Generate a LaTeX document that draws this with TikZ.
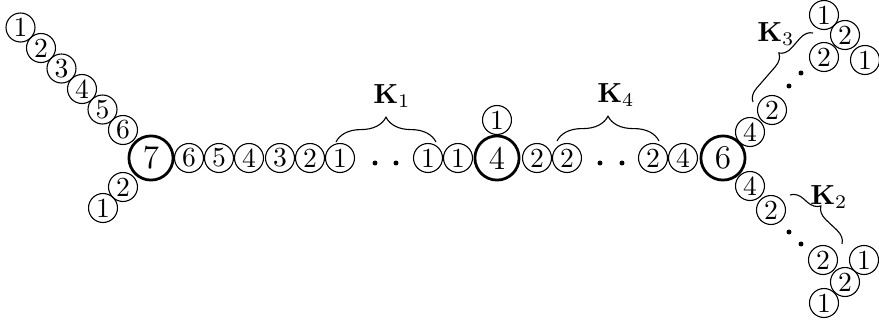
\documentclass[tikz,border=0pt]{standalone}
\usetikzlibrary{decorations.pathreplacing}
\begin{document}
\begin{tikzpicture}[x=0.3623pt,y=0.3623pt,
  smallnode/.style={circle,draw,line width=0.4pt,inner sep=0pt,minimum size=10.5pt,font=\fontsize{10}{12}\selectfont},
  bignode/.style={circle,draw,line width=1pt,inner sep=0pt,minimum size=16pt,font=\fontsize{12}{14}\selectfont},
  dotnode/.style={circle,fill,inner sep=0pt,minimum size=1.8pt},
  klabel/.style={inner sep=0pt,font=\fontsize{10}{12}\selectfont},
  kbrace/.style={decorate,decoration={brace,amplitude=#1},line width=0.4pt},
  kbrace/.default=9pt]
\useasboundingbox (0,0) rectangle (879,-324);
% left hub
\node[bignode] (h7) at (151,-158) {7};
\node[smallnode] (u6) at (123,-130) {6};
\node[smallnode] (u5) at (102.5,-109.5) {5};
\node[smallnode] (u4) at (82,-89) {4};
\node[smallnode] (u3) at (61.5,-68.5) {3};
\node[smallnode] (u2) at (41,-48) {2};
\node[smallnode] (u1) at (20.5,-27.5) {1};
\node[smallnode] (l2) at (123,-187) {2};
\node[smallnode] (l1) at (103,-208) {1};
% main row
\node[smallnode] (m6) at (189,-158) {6};
\node[smallnode] (m5) at (219,-158) {5};
\node[smallnode] (m4) at (249,-158) {4};
\node[smallnode] (m3) at (280,-158) {3};
\node[smallnode] (m2) at (310,-158) {2};
\node[smallnode] (m1) at (340,-158) {1};
\node[dotnode] (d1) at (375,-163) {};
\node[dotnode] (d2) at (396,-163) {};
\node[smallnode] (p1) at (428,-158) {1};
\node[smallnode] (q1) at (458,-158) {1};
\node[bignode] (h4) at (497,-158) {4};
\node[smallnode] (t1) at (497,-120) {1};
\node[smallnode] (r2) at (537,-158) {2};
\node[smallnode] (s2) at (567,-158) {2};
\node[dotnode] (d3) at (600,-163) {};
\node[dotnode] (d4) at (622,-163) {};
\node[smallnode] (v2) at (653,-158) {2};
\node[smallnode] (v4) at (683,-158) {4};
\node[bignode] (h6) at (723,-158) {6};
% upper right
\node[smallnode] (a4) at (750,-132) {4};
\node[smallnode] (a2) at (772,-110) {2};
\node[dotnode] (d5) at (789,-86) {};
\node[dotnode] (d6) at (801,-73) {};
\node[smallnode] (b2) at (824,-57) {2};
\node[smallnode] (c2) at (845,-35) {2};
\node[smallnode] (c1) at (824,-15) {1};
\node[smallnode] (e1) at (865,-60) {1};
% lower right
\node[smallnode] (f4) at (750,-186) {4};
\node[smallnode] (f2) at (771,-210) {2};
\node[dotnode] (d7) at (789,-232) {};
\node[dotnode] (d8) at (801,-244) {};
\node[smallnode] (g2) at (823,-260) {2};
\node[smallnode] (k2) at (845,-282) {2};
\node[smallnode] (k1) at (824,-303) {1};
\node[smallnode] (j1) at (864,-260) {1};
% braces
\coordinate (k1s) at (336,-142);
\coordinate (k1e) at (436,-142);
\coordinate (k4s) at (557,-141);
\coordinate (k4e) at (659,-141);
\coordinate (k3s) at (753,-102);
\coordinate (k3e) at (813,-33);
\coordinate (k2s) at (790,-195);
\coordinate (k2e) at (842,-244);
\draw[kbrace] (k1s) -- (k1e);
\draw[kbrace] (k4s) -- (k4e);
\draw[decorate,decoration={brace,amplitude=4.6pt,aspect=0.59},line width=0.4pt] (k3s) -- (k3e);
\draw[decorate,decoration={brace,amplitude=4.8pt,aspect=0.42},line width=0.4pt] (k2s) -- (k2e);
\node[klabel] (lk1) at (392,-96) {$\mathbf{K}_1$};
\node[klabel] (lk4) at (616,-95) {$\mathbf{K}_4$};
\node[klabel] (lk3) at (776,-34) {$\mathbf{K}_3$};
\node[klabel] (lk2) at (829,-197) {$\mathbf{K}_2$};
\end{tikzpicture}
\end{document}
